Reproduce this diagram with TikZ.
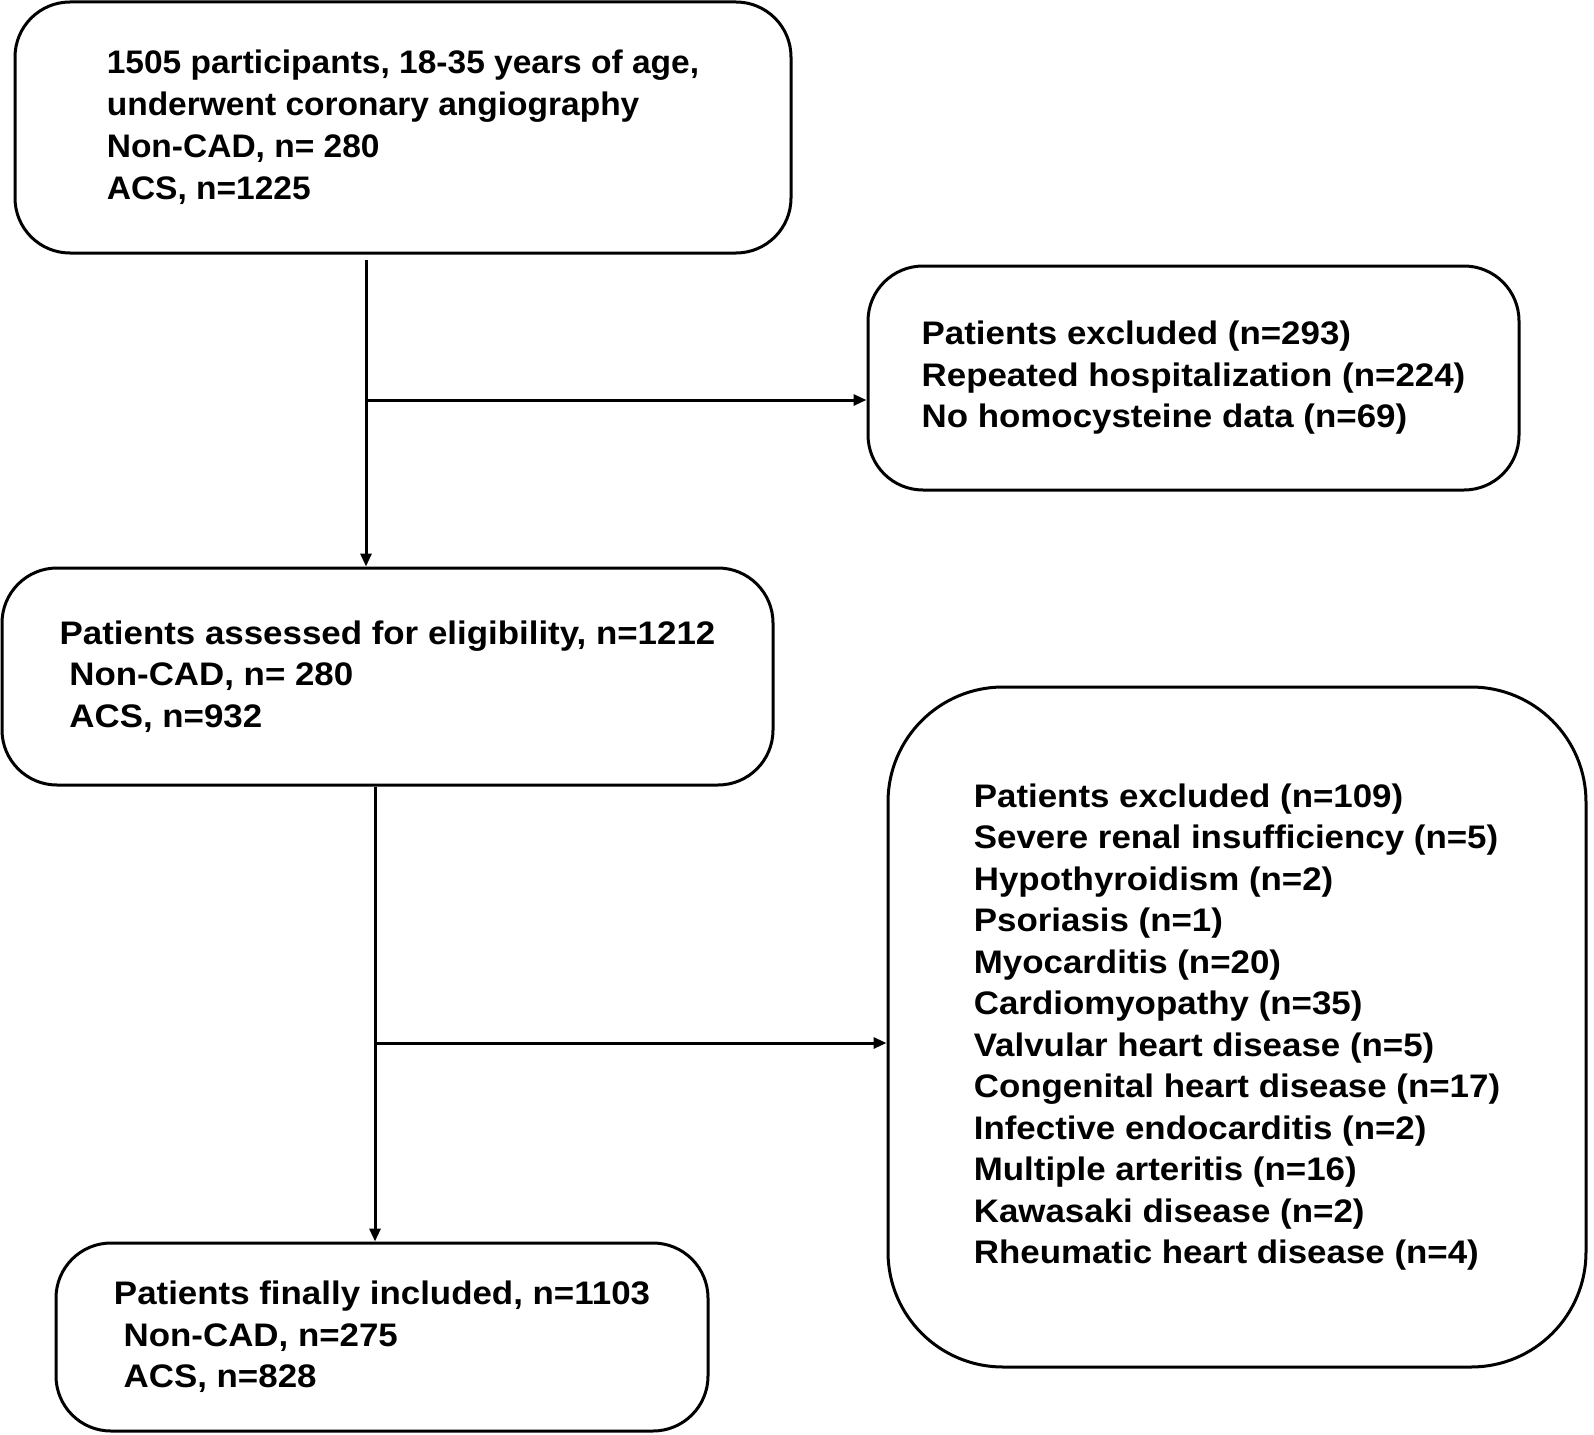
\documentclass[tikz,border=0pt]{standalone}
\usepackage{fontspec}
\setmainfont{Liberation Sans}
\newfontfamily\widefont[FakeStretch=1.07]{Liberation Sans}
\newfontfamily\startfont[FakeStretch=1.028]{Liberation Sans}
\usepackage{tikz}
\usetikzlibrary{arrows.meta}
\tikzset{%
  every step box/.style={
    draw,
    line width=3pt,
    rounded corners=55pt,
    align=left,
    font=\widefont\bfseries\fontsize{32.6pt}{41.5pt}\selectfont,
    inner sep=0pt
  },
  big box/.style={
    every step box,
    rounded corners=115pt
  },
}

\begin{document}
\begin{tikzpicture}[x=1pt, y=-1pt, > = {Triangle[length=13pt,width=11pt]}, line width=3pt]
\useasboundingbox (0,0) rectangle (1594,1434);
    \node[every step box, font=\startfont\bfseries\fontsize{32.6pt}{42pt}\selectfont,
          minimum width=776pt, minimum height=251pt] (start) at (403,127.5)
      {1505 participants, 18-35 years of age,\\ underwent coronary angiography\\ Non-CAD, n= 280\\ ACS, n=1225};
    \node[every step box, minimum width=651pt, minimum height=224pt] (excl1) at (1193.5,378)
      {Patients excluded (n=293)\\ Repeated hospitalization (n=224)\\ No homocysteine data (n=69)};
    \node[every step box, minimum width=771pt, minimum height=217pt] (assessed) at (387.5,676.5)
      {Patients assessed for eligibility, n=1212\\ \ Non-CAD, n= 280\\ \ ACS, n=932};
    \node[big box, minimum width=698pt, minimum height=680pt] (excl2) at (1237,1027)
      {Patients excluded (n=109)\\ Severe renal insufficiency (n=5)\\ Hypothyroidism (n=2)\\
       Psoriasis (n=1)\\ Myocarditis (n=20)\\ Cardiomyopathy (n=35)\\ Valvular heart disease (n=5)\\
       Congenital heart disease (n=17)\\ Infective endocarditis (n=2)\\ Multiple arteritis (n=16)\\
       Kawasaki disease (n=2)\\ Rheumatic heart disease (n=4)};
    \node[every step box, minimum width=652pt, minimum height=188pt] (included) at (382,1337)
      {Patients finally included, n=1103\\ \ Non-CAD, n=275\\ \ ACS, n=828};

    % split points
    \coordinate (split1) at (366,400);
    \coordinate (split2) at (375,1043);

    \draw[->, shorten <=5pt] (split1 |- start.south) -- (split1 |- assessed.north);
    \draw[->]  (split1) -- (split1 -| excl1.west);

    \draw[->]  (split2 |- assessed.south) -- (split2 |- included.north);
    \draw[->]  (split2) -- (split2 -| excl2.west);
\end{tikzpicture}
\end{document}
